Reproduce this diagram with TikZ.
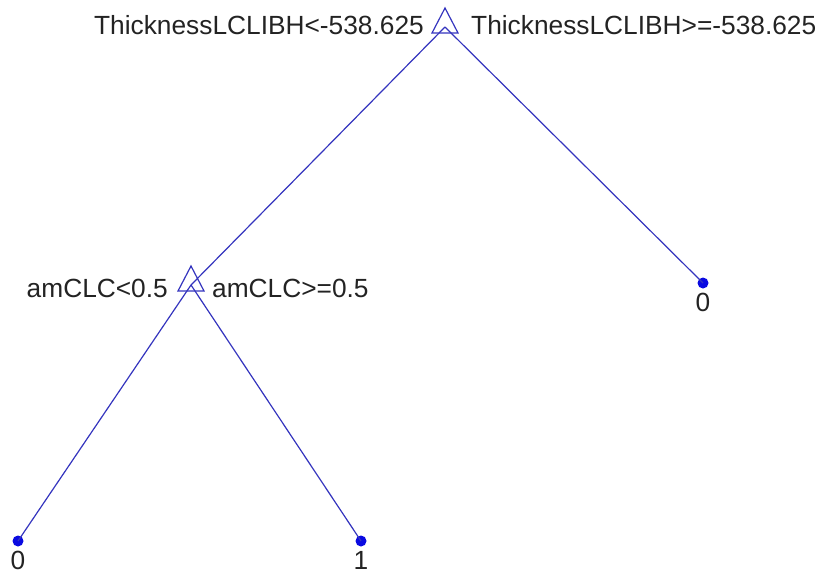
\documentclass[tikz,border=0pt]{standalone}
\usepackage{fontspec}
\setmainfont{Liberation Sans}
\begin{document}
\begin{tikzpicture}[x=1pt,y=-1pt,
  edge/.style={draw=treeblue,line width=1.2pt},
  splitmark/.style={draw=treeblue,line width=1.2pt,line join=miter},
  leafdot/.style={circle,fill=dotblue,inner sep=0pt,minimum size=11pt},
  lbl/.style={inner sep=0pt,text=labelgray,font=\fontsize{26.3}{30}\selectfont},
]
\definecolor{treeblue}{RGB}{52,52,190}
\definecolor{dotblue}{RGB}{10,10,225}
\definecolor{labelgray}{RGB}{35,35,35}
\useasboundingbox (0,0) rectangle (821,573);

% tree nodes (y grows downwards)
\coordinate (root) at (445,27);
\coordinate (split) at (191,285);
\node[leafdot] (leafA) at (18,541) {};
\node[leafdot] (leafB) at (361,541) {};
\node[leafdot] (leafC) at (703,283) {};

% branches
\draw[edge] (root) -- (split);
\draw[edge] (root) -- (leafC.center);
\draw[edge] (split) -- (leafA.center);
\draw[edge] (split) -- (leafB.center);

% split markers: apex 19 above the split point
\foreach \n in {root,split}
  \draw[splitmark] ([yshift=19pt]\n) -- ++(-13,25) -- ++(26,0) -- cycle;

% split conditions
\node[lbl,anchor=base east] (rl) at (424,34) {ThicknessLCLIBH<-538.625};
\node[lbl,anchor=base west] (rr) at (471,34) {ThicknessLCLIBH>=-538.625};
\node[lbl,anchor=base east] (sl) at (168,297) {amCLC<0.5};
\node[lbl,anchor=base west] (sr) at (212,297) {amCLC>=0.5};

% leaf classes
\node[lbl,anchor=base] (ca) at ([yshift=-28pt]leafA.center) {0};
\node[lbl,anchor=base] (cb) at ([yshift=-28pt]leafB.center) {1};
\node[lbl,anchor=base] (cc) at ([yshift=-28pt]leafC.center) {0};
\end{tikzpicture}
\end{document}
